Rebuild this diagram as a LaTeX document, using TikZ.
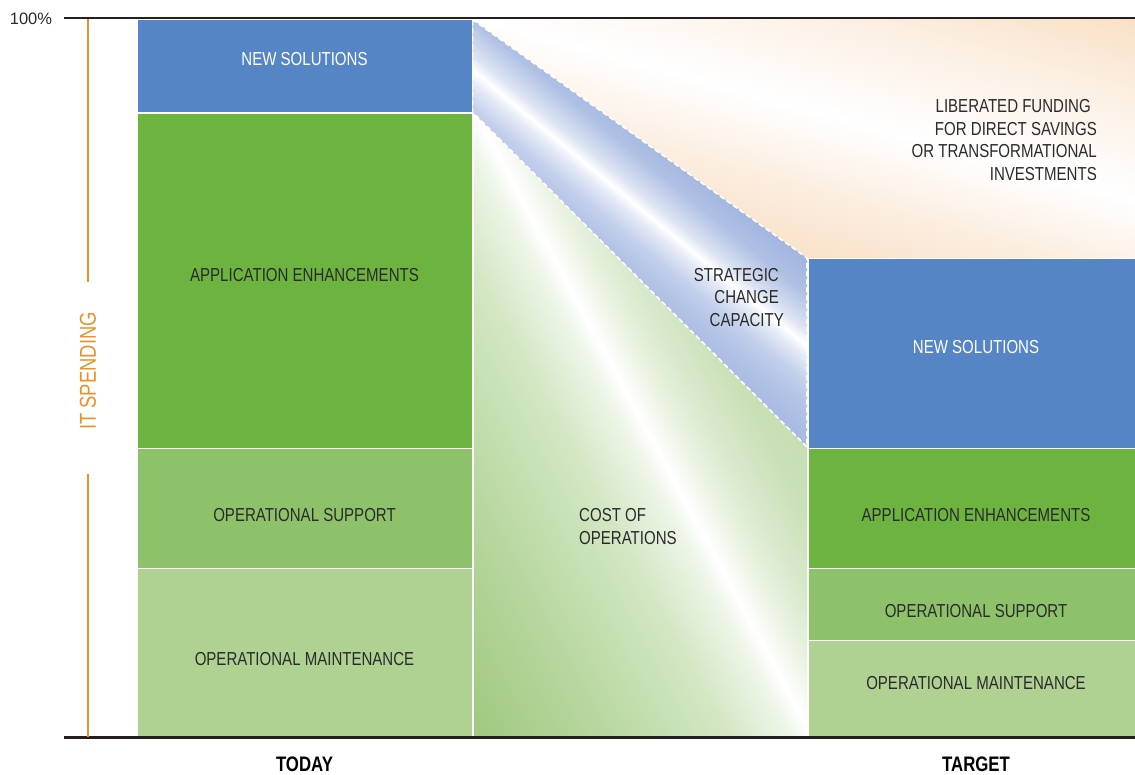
\documentclass[tikz,border=0pt]{standalone}
\usepackage{fontspec}
\setmainfont[FakeStretch=0.8]{Liberation Sans}
\newfontfamily\plainfont{Liberation Sans}
\definecolor{nsblue}{HTML}{5585C5}
\definecolor{aegreen}{HTML}{6DB33F}
\definecolor{osgreen}{HTML}{8DC26A}
\definecolor{omgreen}{HTML}{AFD293}
\definecolor{axisorange}{HTML}{E8922A}
\definecolor{axisline}{HTML}{231F20}
\definecolor{labeltext}{HTML}{2B2B2B}
% cost of operations
\definecolor{gzero}{HTML}{A0C97F}
\definecolor{gone}{HTML}{B7D79F}
\definecolor{gtwo}{HTML}{D3E7C4}
\definecolor{gthree}{HTML}{EEF6E9}
\definecolor{gfour}{HTML}{EAF3E2}
\definecolor{gfive}{HTML}{DAEACE}
\definecolor{gsix}{HTML}{C9E0B6}
\definecolor{gseven}{HTML}{C6DEB0}
% strategic band
\definecolor{bzero}{HTML}{A6B9E1}
\definecolor{bone}{HTML}{B3C3E6}
\definecolor{btwo}{HTML}{C4D0EC}
\definecolor{bthree}{HTML}{E6EBF7}
\definecolor{bfour}{HTML}{DDE4F3}
\definecolor{bfive}{HTML}{AFC0E4}
\definecolor{bsix}{HTML}{A0B4DF}
% liberated funding
\definecolor{ozero}{HTML}{F9E2C9}
\definecolor{oone}{HTML}{FBECDD}
\definecolor{otwo}{HTML}{FCF0E4}
\definecolor{othree}{HTML}{F9E1C6}
\pgfdeclarehorizontalshading{costshade}{100bp}{color(0bp)=(gzero); color(27bp)=(gzero); color(35.9bp)=(gone); color(44.4bp)=(gtwo); color(48.8bp)=(gthree); color(50.2bp)=(white); color(52.4bp)=(gfour); color(54.6bp)=(gfive); color(58.2bp)=(gsix); color(60.6bp)=(gseven); color(100bp)=(gseven)}
\pgfdeclarehorizontalshading{bandshade}{100bp}{color(0bp)=(bzero); color(43.4bp)=(bzero); color(46.7bp)=(bone); color(49bp)=(btwo); color(51.2bp)=(bthree); color(52.2bp)=(white); color(53.5bp)=(bfour); color(56.7bp)=(bfive); color(60bp)=(bsix); color(100bp)=(bsix)}
\pgfdeclarehorizontalshading{fundshade}{100bp}{color(0bp)=(ozero); color(41.5bp)=(ozero); color(45.8bp)=(oone); color(52.2bp)=(white); color(59.2bp)=(otwo); color(65.1bp)=(othree); color(100bp)=(othree)}
\newcommand{\lblfont}{\fontsize{18.8}{22.7}\selectfont}
\begin{document}
\begin{tikzpicture}[x=1pt,y=-1pt,
  lbl/.style={font=\lblfont, text=labeltext, inner sep=0pt},
  lblw/.style={lbl, text=white},
  axisrule/.style={draw=axisline, line width=2.6pt},
  orangerule/.style={draw=axisorange, line width=1.8pt},
  bandedge/.style={draw=white, line width=1.6pt, dash pattern=on 5pt off 3pt},
  colhead/.style={font=\bfseries\fontsize{21}{24}\selectfont, text=black, inner sep=0pt}]
\useasboundingbox (0,0) rectangle (1135,774);
\fill[white] (0,0) rectangle (1135,774);

% liberated funding area (gradient width 670 along its axis)
\begin{scope}
\clip (472.5,19) -- (1135,19) -- (1135,258) -- (807,258) -- cycle;
\shade[shading=fundshade, transform canvas={rotate around={74.6:(803.5,138.5)}}] (803.5,138.5) ++(-335,-500) rectangle ++(670,1000);
\end{scope}
% cost of operations area (gradient width 640)
\begin{scope}
\clip (474,114) -- (807,447) -- (807,736) -- (474,736) -- cycle;
\shade[shading=costshade, transform canvas={rotate around={28.4:(640.5,424.5)}}] (640.5,424.5) ++(-320,-500) rectangle ++(640,1000);
\end{scope}
% strategic change band (gradient width 440)
\begin{scope}
\clip (472.5,19.5) -- (807,258) -- (807,447) -- (472.5,112) -- cycle;
\shade[shading=bandshade, transform canvas={rotate around={50.5:(639.5,233)}}] (639.5,233) ++(-220,-450) rectangle ++(440,900);
\end{scope}
\draw[bandedge] (472.5,19.5) -- (807,258) -- (807,447) -- (472.5,112) -- cycle;

% today column
\fill[nsblue] (138,19.5) rectangle (472,112);
\fill[aegreen] (138,113.5) rectangle (472,447.5);
\fill[osgreen] (138,449) rectangle (472,567.5);
\fill[omgreen] (138,569) rectangle (472,736);
% target column
\fill[nsblue] (809,259) rectangle (1135,447.5);
\fill[aegreen] (809,449) rectangle (1135,567.5);
\fill[osgreen] (809,569) rectangle (1135,639.5);
\fill[omgreen] (809,641) rectangle (1135,736);

% axes
\coordinate (topL) at (64,18);
\coordinate (topR) at (1135,18);
\coordinate (botL) at (64,737.5);
\coordinate (botR) at (1135,737.5);
\draw[axisrule] (topL) -- (topR);
\draw[axisrule] (botL) -- (botR);
\coordinate (oA) at (88,19);
\coordinate (oB) at (88,282);
\coordinate (oC) at (88,474);
\coordinate (oD) at (88,737);
\draw[orangerule] (oA) -- (oB);
\draw[orangerule] (oC) -- (oD);
\node[rotate=90, font=\fontsize{23}{26}\selectfont, text=axisorange, inner sep=0pt] (itspend) at (88,371) {IT SPENDING};
\node[font=\plainfont\fontsize{16.5}{18}\selectfont, text=labeltext, inner sep=0pt] (hundred) at (31,18.5) {100\%};

% labels today
\node[lblw] (tNS) at (304.5,59) {NEW SOLUTIONS};
\node[lbl] (tAE) at (304.5,275) {APPLICATION ENHANCEMENTS};
\node[lbl] (tOS) at (304.5,515) {OPERATIONAL SUPPORT};
\node[lbl] (tOM) at (304.5,659) {OPERATIONAL MAINTENANCE};
% labels target
\node[lblw] (gNS) at (976,347) {NEW SOLUTIONS};
\node[lbl] (gAE) at (976,515) {APPLICATION ENHANCEMENTS};
\node[lbl] (gOS) at (976,611) {OPERATIONAL SUPPORT};
\node[lbl] (gOM) at (976,683) {OPERATIONAL MAINTENANCE};
% middle labels
\node[lbl, align=right, anchor=east] (scc) at (779,297.5) {STRATEGIC\\CHANGE\\CAPACITY\hspace*{-5pt}};
\node[lbl, align=left, anchor=west] (cop) at (579,526.5) {COST OF\\OPERATIONS};
\node[lbl, align=right, anchor=east] (lib) at (1097,140) {LIBERATED FUNDING\hspace*{6pt}\\FOR DIRECT SAVINGS\\OR TRANSFORMATIONAL\\INVESTMENTS};
% column heads
\node[colhead] (today) at (304.5,764) {TODAY};
\node[colhead] (target) at (976,764) {TARGET};
\end{tikzpicture}
\end{document}
